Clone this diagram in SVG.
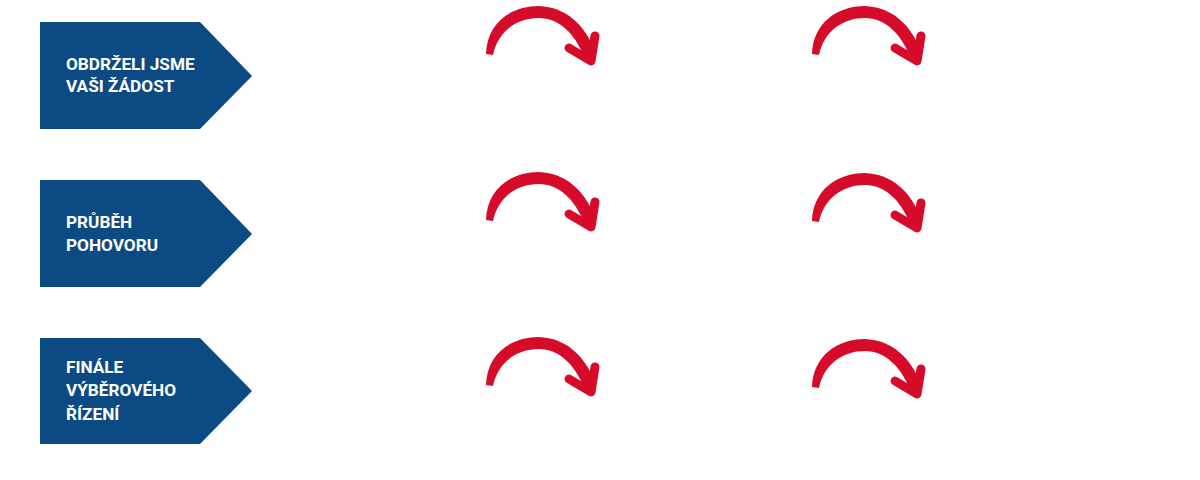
<svg xmlns="http://www.w3.org/2000/svg" width="1200" height="480" viewBox="0 0 1200 480">
<defs>
<style>
.box{fill:#0b4a82}
.lbl{fill:#ffffff;font-family:Roboto,"Liberation Sans",sans-serif;font-weight:700;font-size:17.2px}
.arc{fill:#d60b2a}
.head{fill:none;stroke:#d60b2a;stroke-width:9;stroke-linecap:round;stroke-linejoin:round}
</style>
<g id="arrow">
<path class="arc" d="M486 54 C487 23 511 6 539 6 C566 7 585 25 595 51 L584 56 C574 33 559 18 539 18 C517 18 498 31 493 55 Z"/>
<polyline class="head" points="569,48 591,61 595,36"/>
</g>
</defs>
<rect width="1200" height="480" fill="#ffffff"/>
<g id="node1">
<polygon class="box" points="40,22 200,22 252,76 200,129 40,129"/>
<text class="lbl" x="66" y="70">OBDRŽELI JSME</text>
<text class="lbl" x="66" y="92">VAŠI ŽÁDOST</text>
</g>
<g id="node2">
<polygon class="box" points="40,180 200,180 252,234 200,287 40,287"/>
<text class="lbl" x="66" y="228">PRŮBĚH</text>
<text class="lbl" x="66" y="251">POHOVORU</text>
</g>
<g id="node3">
<polygon class="box" points="40,338 200,338 252,391 200,444 40,444"/>
<text class="lbl" x="66" y="373">FINÁLE</text>
<text class="lbl" x="66" y="396">VÝBĚROVÉHO</text>
<text class="lbl" x="66" y="420">ŘÍZENÍ</text>
</g>
<g id="connectors">
<use href="#arrow"/>
<use href="#arrow" transform="translate(326,0)"/>
<use href="#arrow" transform="translate(0,166)"/>
<use href="#arrow" transform="translate(326,167)"/>
<use href="#arrow" transform="translate(0,331)"/>
<use href="#arrow" transform="translate(326,333)"/>
</g>
</svg>
